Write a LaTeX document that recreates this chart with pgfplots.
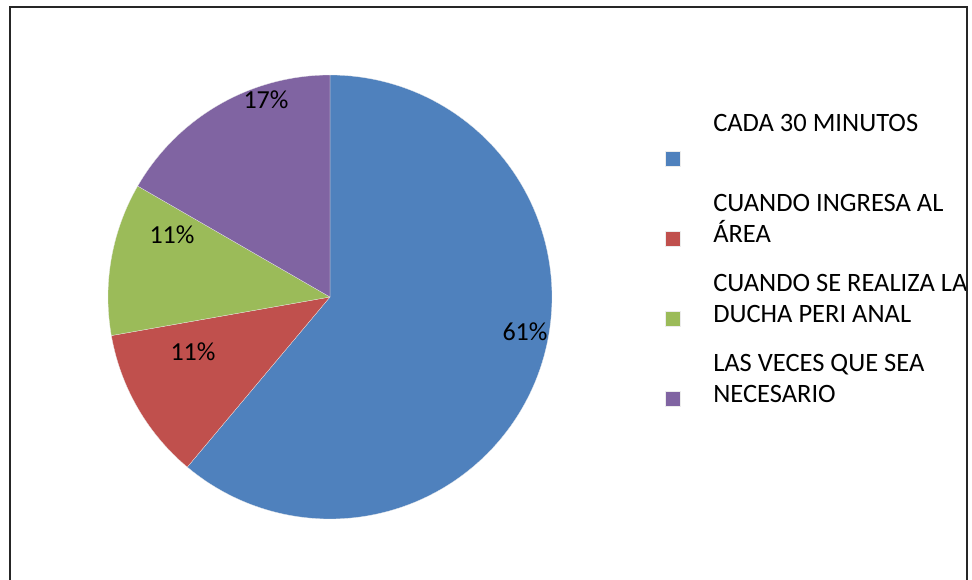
\documentclass[border=0pt]{standalone}
\usepackage{fontspec}
\setmainfont{Carlito}
\usepackage{pgfplots}
\usepackage{pgfplotstable}
\pgfplotsset{compat=1.18}
\definecolor{pieblue}{HTML}{4F81BD}
\definecolor{piered}{HTML}{C0504D}
\definecolor{piegreen}{HTML}{9BBB59}
\definecolor{piepurple}{HTML}{8064A2}

% share of answers, in percent
\pgfplotstableread{
slice value
1 61.11
2 11.11
3 11.11
4 16.67
}\piedata

\begin{document}
\begin{tikzpicture}
\useasboundingbox (0pt,0pt) rectangle (972pt,579pt);
\clip (0pt,0pt) rectangle (972pt,579pt);
% slice angles, clockwise from 12 o'clock
\pgfplotstablegetelem{0}{value}\of\piedata \let\va\pgfplotsretval
\pgfplotstablegetelem{1}{value}\of\piedata \let\vb\pgfplotsretval
\pgfplotstablegetelem{2}{value}\of\piedata \let\vc\pgfplotsretval
\pgfplotstablegetelem{3}{value}\of\piedata \let\vd\pgfplotsretval
\pgfmathsetmacro\aA{90}
\pgfmathsetmacro\aB{\aA-3.6*\va}
\pgfmathsetmacro\aC{\aB-3.6*\vb}
\pgfmathsetmacro\aD{\aC-3.6*\vc}
\pgfmathsetmacro\aE{\aD-3.6*\vd}
\begin{axis}[
  at={(0pt,0pt)}, anchor=south west,
  scale only axis,
  width=972pt, height=579pt,
  xmin=0, xmax=972, ymin=0, ymax=579,
  hide axis, clip=false,
  font=\fontsize{26}{31}\selectfont,
  slice/.style={draw=white!85!gray, line width=0.25pt, samples=120, variable=\t},
  legend image code/.code={\fill[#1] (0pt,-3.5pt) rectangle (15pt,11.5pt);},
  legend style={
    at={(axis cs:665,464)}, anchor=north west,
    draw=none, fill=none, inner sep=0pt, outer sep=0pt,
    column sep=33pt, row sep=24pt,
    cells={anchor=base west},
    nodes={inner sep=0pt, text height=48pt, text depth=8pt,
           font=\fontsize{26.5}{31}\selectfont},
  },
]
\addplot[slice, fill=pieblue, domain=\aB:\aA]
  ({330+222*cos(\t)}, {282+222*sin(\t)}) -- (axis cs:330,282) -- cycle;
\addlegendentry{\parbox[b]{270pt}{CADA 30 MINUTOS\\\mbox{}}}
\addplot[slice, fill=piered, domain=\aC:\aB]
  ({330+222*cos(\t)}, {282+222*sin(\t)}) -- (axis cs:330,282) -- cycle;
\addlegendentry{\parbox[b]{270pt}{CUANDO INGRESA AL\\ÁREA}}
\addplot[slice, fill=piegreen, domain=\aD:\aC]
  ({330+222*cos(\t)}, {282+222*sin(\t)}) -- (axis cs:330,282) -- cycle;
\addlegendentry{\parbox[b]{270pt}{CUANDO SE REALIZA LA\\DUCHA PERI ANAL}}
\addplot[slice, fill=piepurple, domain=\aE:\aD]
  ({330+222*cos(\t)}, {282+222*sin(\t)}) -- (axis cs:330,282) -- cycle;
\addlegendentry{\parbox[b]{270pt}{LAS VECES QUE SEA\\NECESARIO}}

\node at (axis cs:525,247) {61\%};
\node at (axis cs:193,227) {11\%};
\node at (axis cs:172,344) {11\%};
\node at (axis cs:266,479) {17\%};
\end{axis}
\draw[line width=1.4pt, black!85] (10pt,-5pt) |- (967pt,572pt) -- (967pt,-5pt);
\end{tikzpicture}
\end{document}
